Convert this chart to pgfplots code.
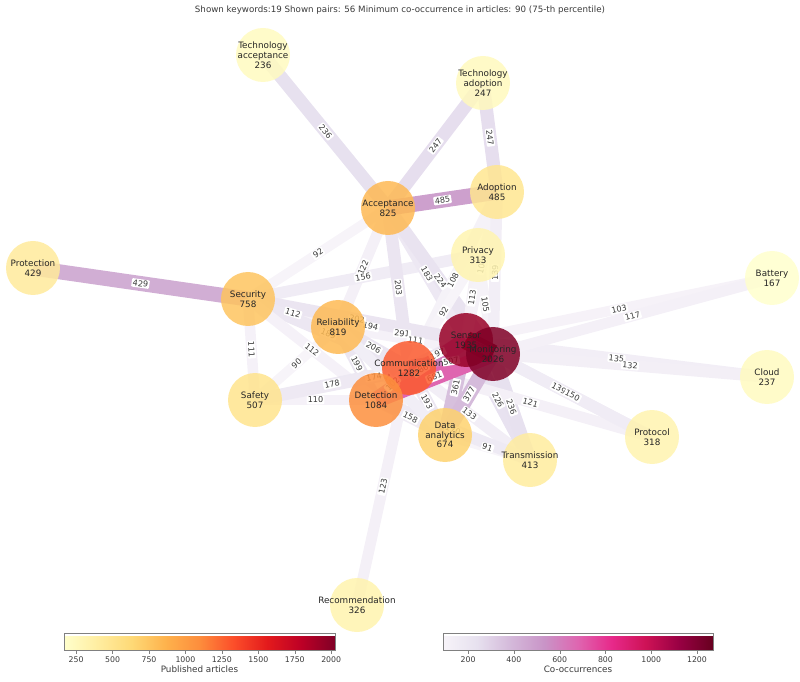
\documentclass[border=0pt]{standalone}
\usepackage{pgfplots}
\pgfplotsset{compat=1.18}
\usepackage{pgfplotstable}
\usepackage{fontspec}
\setmainfont{DejaVu Sans}

\pgfplotsset{
  colormap={YlOrRd}{rgb255=(255,255,204) rgb255=(255,237,160) rgb255=(254,217,118) rgb255=(254,178,76) rgb255=(253,141,60) rgb255=(252,78,42) rgb255=(227,26,28) rgb255=(189,0,38) rgb255=(128,0,38)},
  colormap={PuRd}{rgb255=(247,244,249) rgb255=(231,225,239) rgb255=(212,185,218) rgb255=(201,148,199) rgb255=(223,101,176) rgb255=(231,41,138) rgb255=(206,18,86) rgb255=(152,0,67) rgb255=(103,0,31)},
}
\definecolor{txt}{HTML}{3A3A3A}
\definecolor{ntxt}{HTML}{262626}

% keywords: position (pixels, y up), published articles
\pgfplotstableread{
x y c label
263 626 236 {Technology\\acceptance\\236}
483 598 247 {Technology\\adoption\\247}
388 473 825 {Acceptance\\825}
497 489 485 {Adoption\\485}
478 426 313 {Privacy\\313}
33 413 429 {Protection\\429}
772 403 167 {Battery\\167}
248 382 758 {Security\\758}
338 354 819 {Reliability\\819}
466 341 1935 {Sensor\\1935}
493 327 2026 {Monitoring\\2026}
409 313 1282 {Communication\\1282}
767 304 237 {Cloud\\237}
255 281 507 {Safety\\507}
376 281 1084 {Detection\\1084}
445 246 674 {Data\\analytics\\674}
652 244 318 {Protocol\\318}
530 221 413 {Transmission\\413}
357 76 326 {Recommendation\\326}
}\kw

% pairs: endpoints and co-occurrences
\pgfplotstableread{
x1 y1 x2 y2 c
263 626 388 473 236
483 598 388 473 247
483 598 497 489 247
33 413 248 382 429
388 473 248 382 92
388 473 338 354 122
248 382 478 426 156
388 473 409 313 203
388 473 466 341 183
388 473 493 327 224
497 489 409 313 108
478 426 409 313 92
478 426 466 341 113
478 426 493 327 105
497 489 466 341 108
497 489 493 327 139
248 382 493 327 194
248 382 338 354 112
338 354 466 341 291
338 354 493 327 111
248 382 466 341 202
248 382 409 313 189
338 354 409 313 206
338 354 376 281 199
248 382 255 281 111
248 382 376 281 112
338 354 255 281 90
255 281 409 313 178
255 281 376 281 110
255 281 493 327 174
409 313 466 341 197
409 313 445 246 193
376 281 445 246 158
409 313 530 221 133
466 341 530 221 226
493 327 530 221 236
409 313 652 244 121
466 341 652 244 139
493 327 652 244 150
466 341 767 304 135
493 327 767 304 132
466 341 772 403 103
493 327 772 403 117
445 246 530 221 91
409 313 357 76 123
376 281 530 221 170
338 354 445 246 140
409 313 376 281 102
466 341 445 246 361
493 327 445 246 377
388 473 497 489 485
409 313 493 327 507
376 281 466 341 586
376 281 493 327 681
466 341 493 327 1270
}\pairs

\begin{document}
\begin{tikzpicture}
\begin{axis}[
  at={(0,0)}, anchor=south west,
  scale only axis, width=800pt, height=681pt,
  xmin=0, xmax=800, ymin=0, ymax=681,
  hide axis, clip=false,
  colormap name=PuRd,
  point meta min=90, point meta max=1270,
  /pgf/number format/1000 sep={},
  /pgf/number format/assume math mode=true,
]
% edges
\addplot[no markers,
  point meta=\thisrow{c},
  quiver={u=\thisrow{x2}-\thisrow{x1}, v=\thisrow{y2}-\thisrow{y1},
    colored=mapped color,
    every arrow/.append style={-, line cap=butt,
      line width={3.25*ln(90+1.18*\pgfplotspointmetatransformed)-4.7}}}]
  table[x=x1, y=y1] {\pairs};
% edge labels
\addplot[only marks, mark=none, point meta=\thisrow{c},
  visualization depends on={atan((\thisrow{y2}-\thisrow{y1})/(\thisrow{x2}-\thisrow{x1})) \as \ang},
  nodes near coords,
  nodes near coords style={anchor=center, rotate=\ang, fill=white,
    rounded corners=1pt, inner sep=1.2pt, text=txt,
    font=\fontsize{8.1}{9}\selectfont}]
  table[x expr=(\thisrow{x1}+\thisrow{x2})/2, y expr=(\thisrow{y1}+\thisrow{y2})/2] {\pairs};
% keyword nodes: articles 167..2026 rescaled onto the axis' meta range
\addplot[scatter, only marks, mark=*, mark size=27,
  colormap name=YlOrRd,
  point meta={90+(\thisrow{c}-167)*1180/1859},
  scatter/use mapped color={draw=mapped color, fill=mapped color},
  mark options={draw opacity=0, fill opacity=0.85}]
  table[x=x, y=y] {\kw};
% keyword labels
\addplot[only marks, mark=none, point meta=explicit symbolic,
  nodes near coords,
  nodes near coords style={anchor=center, align=center, text=ntxt,
    font=\fontsize{8.8}{9.8}\selectfont}]
  table[x=x, y=y, meta=label] {\kw};
\node[text=txt, font=\fontsize{8.7}{11}\selectfont]
  at (axis description cs:0.5,0.9853)
  {Shown keywords:19 Shown pairs: 56 Minimum co-occurrence in articles: 90 (75-th percentile)};
\end{axis}

\pgfplotscolorbardrawstandalone[
  colormap name=YlOrRd, colorbar horizontal,
  point meta min=167, point meta max=2026,
  colorbar style={at={(64pt,39pt)}, anchor=south west,
    width=271pt, height=17pt,
    xtick={250,500,750,1000,1250,1500,1750,2000},
    xtick pos=left, tick align=outside, major tick length=3pt,
    axis line style={gray}, tick style={gray},
    /pgf/number format/1000 sep={},
    /pgf/number format/assume math mode=true,
    ticklabel style={font=\fontsize{7.8}{9}\selectfont, text=txt},
    xlabel={Published articles},
    xlabel style={font=\fontsize{8.8}{10}\selectfont, text=txt, yshift=4pt}}]

\pgfplotscolorbardrawstandalone[
  colormap name=PuRd, colorbar horizontal,
  point meta min=90, point meta max=1270,
  colorbar style={at={(443pt,39pt)}, anchor=south west,
    width=270pt, height=17pt,
    xtick={200,400,600,800,1000,1200},
    xtick pos=left, tick align=outside, major tick length=3pt,
    axis line style={gray}, tick style={gray},
    /pgf/number format/1000 sep={},
    /pgf/number format/assume math mode=true,
    ticklabel style={font=\fontsize{7.8}{9}\selectfont, text=txt},
    xlabel={Co-occurrences},
    xlabel style={font=\fontsize{8.8}{10}\selectfont, text=txt, yshift=4pt}}]

\pgfresetboundingbox
\path (0,0) rectangle (800pt,681pt);
\end{tikzpicture}
\end{document}
